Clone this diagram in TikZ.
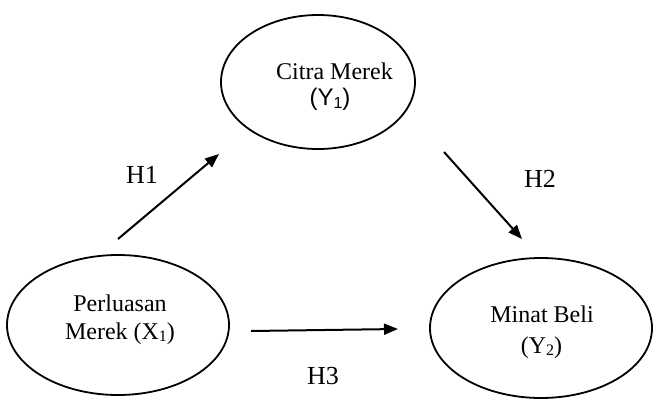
\documentclass[tikz,border=0pt]{standalone}
\usepackage{fontspec}
\setmainfont{Liberation Serif}
\newfontfamily\arialfont{Liberation Sans}
\usetikzlibrary{shapes.geometric,arrows.meta}
\newcommand\subidx[1]{\raisebox{-0.25ex}{\fontsize{16}{16}\selectfont #1}}
\tikzset{
  varbox/.style={draw, line width=1.8pt, ellipse, inner sep=0pt},
  vartext/.style={anchor=base, inner sep=0pt, font=\fontsize{24}{24}\selectfont},
  hlabel/.style={anchor=base, inner sep=0pt, font=\fontsize{26}{26}\selectfont},
  path/.style={line width=2pt, -{Triangle[length=14pt,width=11pt]}}
}
\begin{document}
\begin{tikzpicture}[x=1pt,y=-1pt]
\useasboundingbox (0,0) rectangle (654,399);
\node[varbox, minimum width=194pt, minimum height=134pt] (citra) at (318,82) {};
\node[varbox, minimum width=222pt, minimum height=140pt] (perluasan) at (118,325) {};
\node[varbox, minimum width=222pt, minimum height=140pt] (minat) at (541,328) {};
\node[vartext] (t1a) at (334.5,79) {Citra Merek};
\node[vartext] (t1b) at (330,105) {\arialfont(Y\subidx{1})};
\node[vartext] (t2a) at (120,311) {Perluasan};
\node[vartext] (t2b) at (120,339) {Merek (X\subidx{1})};
\node[vartext] (t3a) at (542,322) {Minat Beli};
\node[vartext] (t3b) at (541.5,353) {(Y\subidx{2})};
\coordinate (h1s) at (118,239);
\coordinate (h1e) at (219,154);
\coordinate (h2s) at (444,152);
\coordinate (h2e) at (522,239);
\coordinate (h3s) at (251,331);
\coordinate (h3e) at (398,329);
\draw[path] (h1s) -- (h1e);
\draw[path] (h2s) -- (h2e);
\draw[path] (h3s) -- (h3e);
\node[hlabel] (H1) at (142,183) {H1};
\node[hlabel] (H2) at (540,187) {H2};
\node[hlabel] (H3) at (323,384) {H3};
\end{tikzpicture}
\end{document}
